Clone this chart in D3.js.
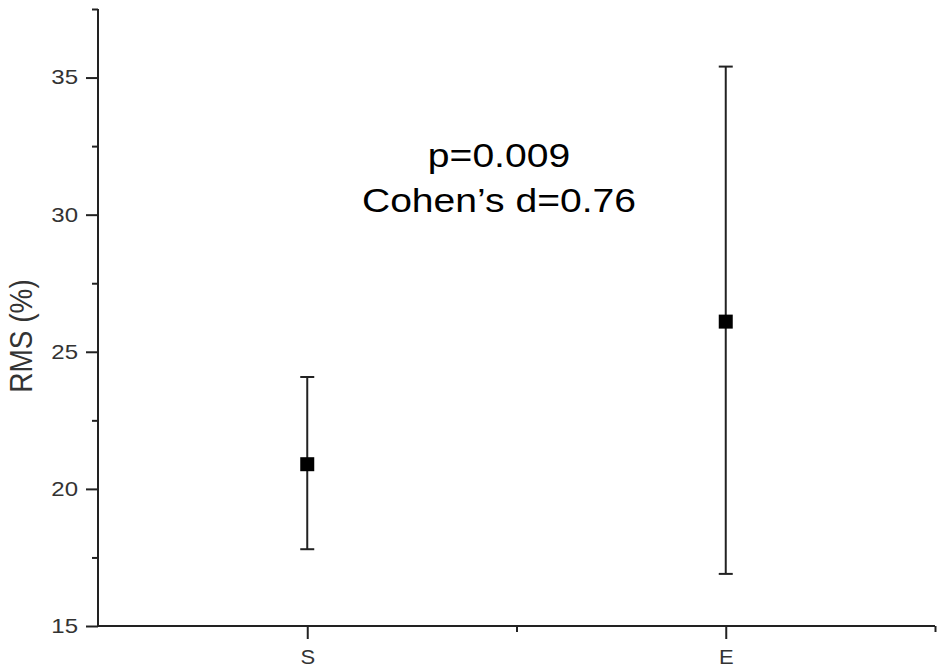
<!DOCTYPE html>
<html>
<head>
<meta charset="utf-8">
<script src="https://cdn.jsdelivr.net/npm/d3@7"></script>
<style>
  html, body { margin: 0; padding: 0; background: #fff; }
  svg { display: block; }
  text { font-family: Arial, "Liberation Sans", sans-serif; }
</style>
</head>
<body>
<svg id="chart" width="945" height="667"></svg>
<script>
// ---- data ----
const categories = ["S", "E"];
const categoryPos = [1, 3];
const means = [20.9, 26.1];
const upper = [24.08, 35.4];
const lower = [17.8, 16.9];
const yTicksMajor = [15, 20, 25, 30, 35];
const yTicksMinor = [17.5, 22.5, 27.5, 32.5, 37.5];
const xTicksMinor = [2, 4];
const annotationLines = ["p=0.009", "Cohen\u2019s d=0.76"];
const yLabel = "RMS (%)";

// ---- layout ----
const svg = d3.select("#chart");
const x = d3.scaleLinear().domain([0, 4]).range([98, 935]);
const y = d3.scaleLinear().domain([15, 37.5]).range([626, 9]);
const stretch = 1.2;

const yMinorAxis = d3.axisLeft(y).tickValues(yTicksMinor).tickSize(6).tickFormat("");
const yAxis = d3.axisLeft(y).tickValues(yTicksMajor).tickSize(12).tickPadding(8).tickFormat(d3.format("d"));
const xMinorAxis = d3.axisBottom(x).tickValues(xTicksMinor).tickSize(6).tickFormat("");
const xAxis = d3.axisBottom(x).tickValues(categoryPos).tickSize(13).tickPadding(11)
  .tickFormat((d, i) => categories[i]);

function styleAxis(g) {
  g.select(".domain").attr("stroke", "#222").attr("stroke-width", 2);
  g.selectAll(".tick line").attr("stroke", "#222").attr("stroke-width", 2);
}

const gyMin = svg.append("g").attr("transform", `translate(${x(0)},0)`).call(yMinorAxis).call(styleAxis);
gyMin.select(".domain").remove();
const gy = svg.append("g").attr("transform", `translate(${x(0)},0)`).call(yAxis).call(styleAxis);
gy.select(".domain").attr("d", `M0,${y(15)}V${y(37.5)}`);
gy.selectAll(".tick text")
  .attr("fill", "#333").attr("font-size", 20)
  .each(function() {
    const t = d3.select(this);
    const tx = +t.attr("x");
    t.attr("x", tx / stretch).attr("transform", `scale(${stretch},1)`);
  });

const gxMin = svg.append("g").attr("transform", `translate(0,${y(15)})`).call(xMinorAxis).call(styleAxis);
gxMin.select(".domain").remove();
const gx = svg.append("g").attr("transform", `translate(0,${y(15)})`).call(xAxis).call(styleAxis);
gx.select(".domain").attr("d", `M${x(0)},0H${x(4)}`);
gx.selectAll(".tick text").attr("fill", "#333").attr("font-size", 20)
  .attr("transform", `scale(1.1,1)`)
  .each(function(d) {
    d3.select(this).attr("x", 0);
  });

// y label
svg.append("text")
  .attr("transform", `translate(32,336) scale(1.15,1) rotate(-90)`)
  .attr("text-anchor", "middle")
  .attr("fill", "#333")
  .attr("font-size", 28)
  .text(yLabel);

// error bars
const capW = 7;
const bars = svg.append("g");
categories.forEach((c, i) => {
  const cx = x(categoryPos[i]);
  bars.append("line").attr("x1", cx).attr("x2", cx)
    .attr("y1", y(lower[i])).attr("y2", y(upper[i]))
    .attr("stroke", "#222").attr("stroke-width", 2);
  [upper[i], lower[i]].forEach(v => {
    bars.append("line").attr("x1", cx - capW).attr("x2", cx + capW)
      .attr("y1", y(v)).attr("y2", y(v))
      .attr("stroke", "#222").attr("stroke-width", 2);
  });
  bars.append("rect")
    .attr("x", cx - 7).attr("y", y(means[i]) - 7)
    .attr("width", 14).attr("height", 14)
    .attr("fill", "#000");
});

// annotation
const ann = svg.append("g").attr("transform", `translate(499,0) scale(1.15,1)`);
ann.append("text").attr("x", 0).attr("y", 167).attr("text-anchor", "middle")
  .attr("font-size", 34).attr("fill", "#000").text(annotationLines[0]);
ann.append("text").attr("x", 0).attr("y", 212).attr("text-anchor", "middle")
  .attr("font-size", 34).attr("fill", "#000").text(annotationLines[1]);
</script>
</body>
</html>
